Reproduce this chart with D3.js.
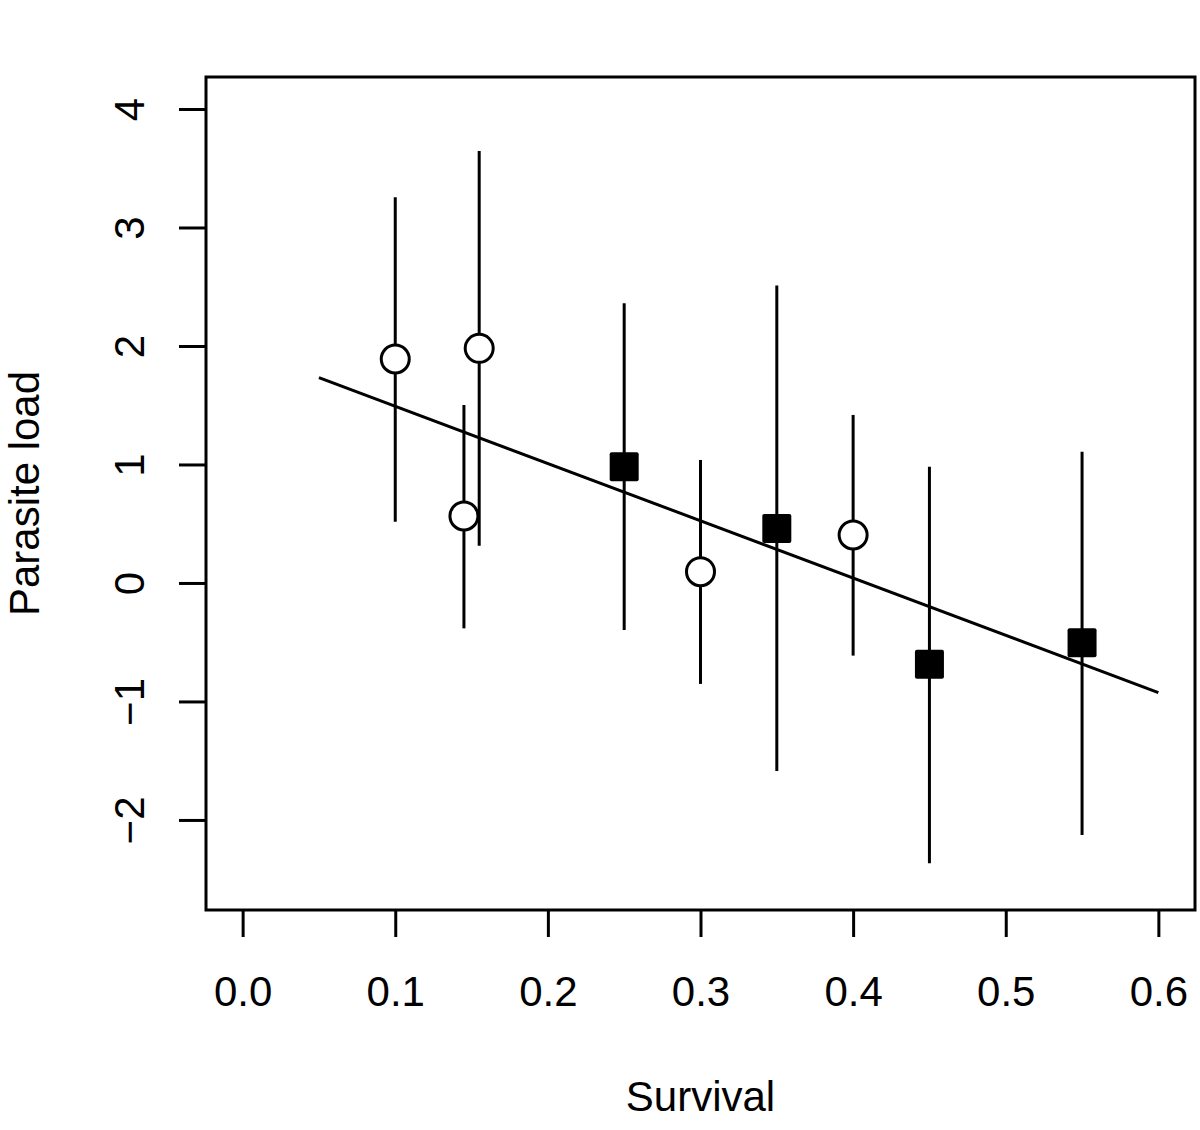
<!DOCTYPE html>
<html>
<head>
<meta charset="utf-8">
<script src="https://cdn.jsdelivr.net/npm/d3@7"></script>
<style>
html,body{margin:0;padding:0;background:#fff;}
svg text{font-family:"Liberation Sans",Arial,Helvetica,sans-serif;fill:#000;}
</style>
</head>
<body>
<svg id="chart" width="1200" height="1130"></svg>
<script>
// Open circles
const circleX = [0.1, 0.145, 0.155, 0.3, 0.4];
const circleY = [1.89, 0.565, 1.98, 0.095, 0.405];
const circleLo = [0.517, -0.383, 0.315, -0.852, -0.613];
const circleHi = [3.255, 1.502, 3.645, 1.038, 1.418];
// Filled squares
const squareX = [0.25, 0.35, 0.45, 0.55];
const squareY = [0.98, 0.46, -0.686, -0.504];
const squareLo = [-0.397, -1.586, -2.366, -2.127];
const squareHi = [2.36, 2.51, 0.98, 1.108];
// Regression line endpoints
const lineX = [0.05, 0.6];
const lineY = [1.733, -0.925];
// Ticks
const xTicks = [0, 0.1, 0.2, 0.3, 0.4, 0.5, 0.6];
const yTicks = [-2, -1, 0, 1, 2, 3, 4];
const xTitle = "Survival";
const yTitle = "Parasite load";

(function () {
const svg = d3.select("#chart");
const pL = 206, pR = 1195, pT = 77, pB = 910;
const x = d3.scaleLinear().domain([-0.024, 0.624]).range([pL, pR]);
const y = d3.scaleLinear().domain([-2.76, 4.27]).range([pB, pT]);
const lw = 3;

const circles = circleX.map((v, i) => ({x: v, y: circleY[i], lo: circleLo[i], hi: circleHi[i]}));
const squares = squareX.map((v, i) => ({x: v, y: squareY[i], lo: squareLo[i], hi: squareHi[i]}));
const all = circles.concat(squares);

// Error bars
svg.append("g").selectAll("line").data(all).join("line")
  .attr("x1", d => x(d.x)).attr("x2", d => x(d.x))
  .attr("y1", d => y(d.lo)).attr("y2", d => y(d.hi))
  .attr("stroke", "#000").attr("stroke-width", lw);

// Regression line
svg.append("line")
  .attr("x1", x(lineX[0])).attr("y1", y(lineY[0]))
  .attr("x2", x(lineX[1])).attr("y2", y(lineY[1]))
  .attr("stroke", "#000").attr("stroke-width", lw);

// Circles
svg.append("g").selectAll("circle").data(circles).join("circle")
  .attr("cx", d => x(d.x)).attr("cy", d => y(d.y)).attr("r", 14)
  .attr("fill", "#fff").attr("stroke", "#000").attr("stroke-width", lw);

// Squares
const sq = 29;
svg.append("g").selectAll("rect").data(squares).join("rect")
  .attr("x", d => x(d.x) - sq / 2).attr("y", d => y(d.y) - sq / 2)
  .attr("width", sq).attr("height", sq).attr("rx", 2)
  .attr("fill", "#000");

// Box
svg.append("rect").attr("x", pL).attr("y", pT)
  .attr("width", pR - pL).attr("height", pB - pT)
  .attr("fill", "none").attr("stroke", "#000").attr("stroke-width", lw);

// X axis
const xAxis = d3.axisBottom(x).tickValues(xTicks).tickFormat(d3.format(".1f")).tickSize(27).tickPadding(0);
const gx = svg.append("g").attr("transform", `translate(0,${pB})`).call(xAxis);
gx.select(".domain").remove();
gx.selectAll(".tick line").attr("stroke", "#000").attr("stroke-width", lw);
gx.selectAll(".tick text").attr("y", 96).attr("dy", null).attr("fill", "#000")
  .style("font-size", "42px").style("font-family", "'Liberation Sans', Arial, sans-serif");

// Y axis
const yAxis = d3.axisLeft(y).tickValues(yTicks).tickFormat(d => d < 0 ? "\u2212" + Math.abs(d) : String(d)).tickSize(27).tickPadding(0);
const gy = svg.append("g").attr("transform", `translate(${pL},0)`).call(yAxis);
gy.select(".domain").remove();
gy.selectAll(".tick line").attr("stroke", "#000").attr("stroke-width", lw);
gy.selectAll(".tick text")
  .attr("x", null).attr("dy", null).attr("fill", "#000")
  .attr("text-anchor", "middle")
  .attr("transform", "translate(-62,0) rotate(-90)")
  .style("font-size", "42px").style("font-family", "'Liberation Sans', Arial, sans-serif");

// Titles
svg.append("text").attr("x", (pL + pR) / 2).attr("y", 1111)
  .attr("text-anchor", "middle").style("font-size", "42px").text(xTitle);
svg.append("text").attr("transform", `translate(39,${(pT + pB) / 2}) rotate(-90)`)
  .attr("text-anchor", "middle").style("font-size", "42px").text(yTitle);
})();
</script>
</body>
</html>
